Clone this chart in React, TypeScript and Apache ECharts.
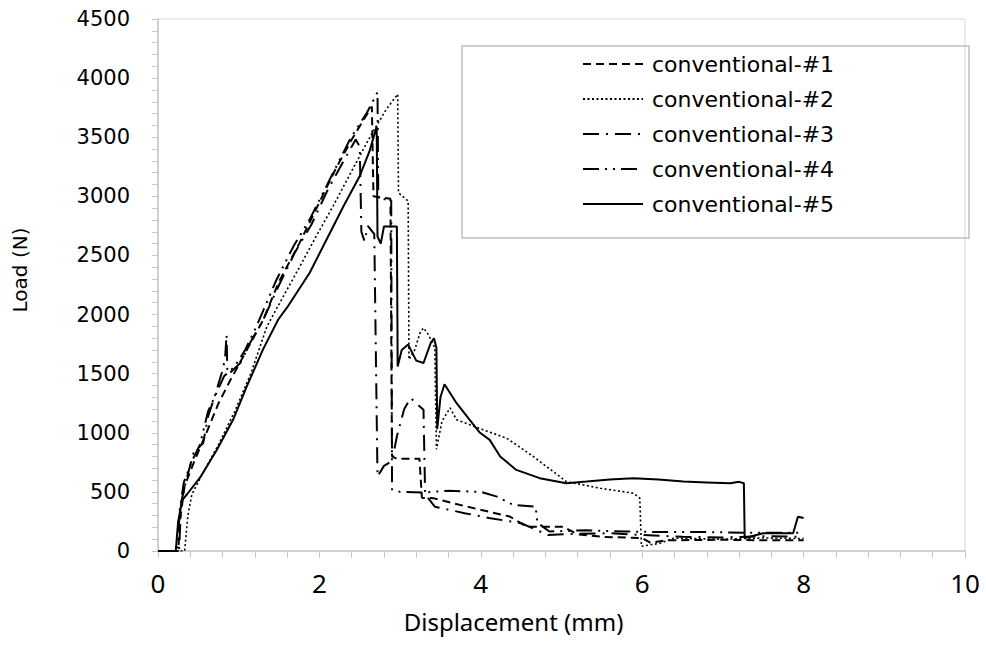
import React, { useEffect, useRef } from "react";
import * as echarts from "echarts";

const seriesNames = [
  "conventional-#1",
  "conventional-#2",
  "conventional-#3",
  "conventional-#4",
  "conventional-#5",
];

// conventional-#1 (dashed)
const x1 = [0, 0.25, 0.28, 0.33, 0.45, 0.6, 0.75, 0.9, 1.1, 1.3, 1.5, 1.75, 2.0, 2.2, 2.4, 2.55, 2.65, 2.67, 2.75, 2.88, 2.9, 2.96, 3.24, 3.27, 3.41, 3.8, 4.36, 4.57, 5.02, 5.2, 5.5, 6.0, 6.1, 6.3, 7.0, 7.5, 8.0];
const y1 = [0, 0, 300, 550, 760, 1000, 1250, 1450, 1700, 1950, 2280, 2600, 2950, 3230, 3480, 3650, 3760, 3000, 2990, 2980, 800, 780, 780, 450, 447, 380, 291, 206, 206, 140, 120, 110, 70, 90, 95, 90, 90];

// conventional-#2 (dotted)
const x2 = [0, 0.33, 0.37, 0.42, 0.55, 0.75, 0.95, 1.15, 1.35, 1.55, 1.76, 1.95, 2.17, 2.35, 2.5, 2.65, 2.83, 2.97, 2.98, 3.1, 3.11, 3.18, 3.25, 3.29, 3.35, 3.43, 3.45, 3.52, 3.62, 3.7, 4.03, 4.32, 4.65, 5.06, 5.48, 5.89, 5.97, 5.99, 6.22, 6.39, 7.0, 7.5, 8.0];
const y2 = [0, 0, 300, 480, 650, 900, 1180, 1500, 1900, 2150, 2410, 2650, 2918, 3150, 3342, 3530, 3737, 3864, 3030, 2960, 1620, 1700, 1850, 1887, 1830, 1720, 860, 1100, 1210, 1110, 1025, 955, 800, 587, 531, 489, 447, 40, 65, 108, 100, 110, 105];

// conventional-#3 (dash-dot)
const x3 = [0, 0.26, 0.29, 0.35, 0.44, 0.56, 0.62, 0.69, 0.79, 0.83, 0.85, 0.86, 0.89, 1.02, 1.14, 1.3, 1.5, 1.7, 1.9, 2.1, 2.3, 2.45, 2.5, 2.52, 2.56, 2.6, 2.68, 2.72, 2.8, 2.9, 2.96, 3.05, 3.13, 3.2, 3.29, 3.31, 3.43, 3.8, 4.1, 4.5, 4.83, 5.2, 5.6, 6.0, 6.5, 7.0, 7.5, 8.0];
const y3 = [0, 0, 418, 600, 828, 913, 1138, 1280, 1506, 1620, 1830, 1500, 1506, 1590, 1760, 1950, 2250, 2530, 2760, 3050, 3300, 3480, 3420, 2700, 2620, 2750, 2680, 630, 720, 760, 969, 1200, 1294, 1250, 1195, 480, 375, 320, 280, 235, 136, 145, 150, 135, 120, 115, 125, 120];

// conventional-#4 (dash-dot-dot)
const x4 = [0, 0.24, 0.27, 0.32, 0.42, 0.52, 0.62, 0.72, 0.82, 0.95, 1.08, 1.22, 1.47, 1.68, 1.88, 2.13, 2.38, 2.59, 2.72, 2.73, 2.89, 2.9, 3.0, 3.3, 3.6, 4.0, 4.2, 4.4, 4.68, 4.7, 4.85, 5.3, 5.8, 6.2, 6.8, 7.3, 8.0];
const y4 = [0, 0, 350, 580, 760, 900, 1180, 1330, 1480, 1560, 1700, 1900, 2297, 2579, 2805, 3144, 3483, 3709, 3880, 2980, 2970, 520, 500, 495, 510, 500, 460, 390, 375, 240, 165, 175, 165, 160, 160, 155, 155];

// conventional-#5 (solid)
const x5 = [0, 0.22, 0.25, 0.3, 0.36, 0.52, 0.73, 0.93, 1.1, 1.3, 1.49, 1.6, 1.88, 2.1, 2.3, 2.5, 2.62, 2.71, 2.72, 2.76, 2.8, 2.96, 2.97, 3.02, 3.1, 3.2, 3.29, 3.38, 3.42, 3.45, 3.46, 3.5, 3.55, 3.7, 3.85, 3.99, 4.11, 4.24, 4.44, 4.73, 5.06, 5.31, 5.6, 5.89, 6.2, 6.51, 6.8, 7.09, 7.2, 7.26, 7.27, 7.5, 7.87, 7.93, 8.0];
const y5 = [0, 0, 250, 430, 480, 620, 856, 1110, 1392, 1703, 1958, 2060, 2353, 2650, 2918, 3172, 3380, 3590, 2660, 2600, 2745, 2745, 1560, 1700, 1746, 1610, 1590, 1760, 1800, 1720, 1030, 1300, 1410, 1250, 1120, 1000, 940, 800, 686, 616, 573, 587, 605, 616, 605, 587, 580, 573, 585, 573, 110, 150, 150, 290, 280];

const xTicks = { min: 0, max: 10, interval: 2 };
const yTicks = { min: 0, max: 4500, interval: 500 };

const dashStyles: (number[] | "solid")[] = [
  [8, 5],
  [2, 2.5],
  [16, 7, 2, 7],
  [16, 6, 2, 6, 2, 6],
  "solid",
];
const lineWidths = [2, 1.6, 2, 2, 2];

const xsAll = [x1, x2, x3, x4, x5];
const ysAll = [y1, y2, y3, y4, y5];

export default function App() {
  const ref = useRef<HTMLDivElement>(null);
  useEffect(() => {
    document.body.style.margin = "0";
    const chart = echarts.init(ref.current!, null, { renderer: "svg" });
    const axisGray = "#c8c8c8";
    chart.setOption({
      animation: false,
      backgroundColor: "#ffffff",
      grid: {
        left: 158,
        right: 21,
        top: 19,
        bottom: 94,
        show: true,
        borderColor: "#d9d9d9",
        borderWidth: 1,
      },
      legend: {
        orient: "vertical",
        left: 462,
        top: 46,
        itemWidth: 60,
        itemHeight: 14,
        itemGap: 13,
        padding: [7, 121, 23, 120],
        borderColor: "#c0c0c0",
        borderWidth: 1.5,
        itemStyle: { opacity: 0 },
        textStyle: {
          fontFamily: "DejaVu Sans",
          fontSize: 22,
          lineHeight: 22,
          color: "#000",
          width: 196,
          overflow: "none",
          padding: [0, 0, 0, 4],
        },
        data: seriesNames,
      },
      xAxis: {
        type: "value",
        min: xTicks.min,
        max: xTicks.max,
        interval: xTicks.interval,
        name: "Displacement (mm)",
        nameLocation: "middle",
        nameGap: 58,
        nameTextStyle: {
          fontFamily: "Noto Sans",
          fontSize: 24,
          color: "#000",
          padding: [0, 96, 0, 0],
        },
        axisLine: { show: true, onZero: false, lineStyle: { color: axisGray, width: 1.5 } },
        axisTick: { show: true, inside: false, length: 7, lineStyle: { color: axisGray } },
        minorTick: { show: true, splitNumber: 5, length: 7, lineStyle: { color: axisGray } },
        splitLine: { show: false },
        axisLabel: { fontFamily: "Noto Sans", fontSize: 26, color: "#000", margin: 19 },
      },
      yAxis: {
        type: "value",
        min: yTicks.min,
        max: yTicks.max,
        interval: yTicks.interval,
        name: "Load (N)",
        nameLocation: "middle",
        nameGap: 128,
        nameTextStyle: {
          fontFamily: "DejaVu Sans",
          fontSize: 20,
          color: "#000",
          padding: [0, 0, 0, 30],
        },
        axisLine: { show: true, onZero: false, lineStyle: { color: axisGray, width: 1.5 } },
        axisTick: { show: true, inside: false, length: 6, lineStyle: { color: axisGray } },
        minorTick: { show: true, splitNumber: 5, length: 6, lineStyle: { color: axisGray } },
        splitLine: { show: false },
        axisLabel: {
          fontFamily: "DejaVu Sans",
          fontSize: 21,
          color: "#000",
          margin: 28,
          formatter: (v: number) => String(v),
        },
      },
      series: seriesNames.map((name, i) => ({
        name,
        type: "line",
        symbol: "none",
        showSymbol: false,
        color: "#000",
        lineStyle: { color: "#000", width: lineWidths[i], type: dashStyles[i] },
        data: xsAll[i].map((x, j) => [x, ysAll[i][j]]),
        z: 2 + i,
      })),
    });
    return () => chart.dispose();
  }, []);
  return (
    <div
      ref={ref}
      style={{ position: "fixed", left: 0, top: 0, width: 986, height: 645 }}
    />
  );
}
